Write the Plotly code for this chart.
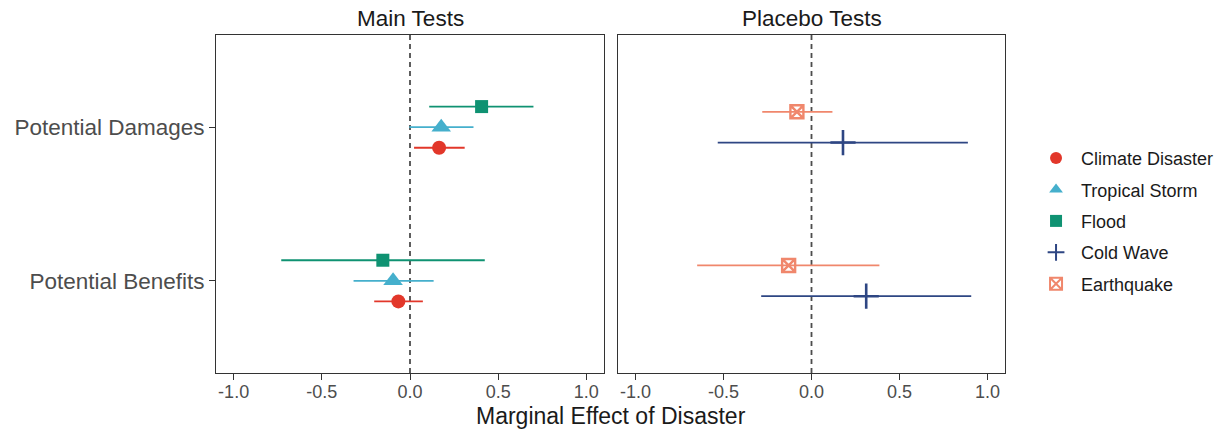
import plotly.graph_objects as go

outcomes = ["Potential Damages", "Potential Benefits"]

series = ["Climate Disaster", "Tropical Storm", "Flood", "Cold Wave", "Earthquake"]
panel = ["Main Tests", "Main Tests", "Main Tests", "Placebo Tests", "Placebo Tests"]

# estimates per series: [Potential Damages, Potential Benefits]
est = {
    "Climate Disaster": [0.165, -0.066],
    "Tropical Storm": [0.177, -0.096],
    "Flood": [0.406, -0.154],
    "Cold Wave": [0.179, 0.311],
    "Earthquake": [-0.083, -0.130],
}
lo = {
    "Climate Disaster": [0.023, -0.203],
    "Tropical Storm": [-0.004, -0.320],
    "Flood": [0.109, -0.730],
    "Cold Wave": [-0.533, -0.286],
    "Earthquake": [-0.280, -0.650],
}
hi = {
    "Climate Disaster": [0.310, 0.073],
    "Tropical Storm": [0.360, 0.134],
    "Flood": [0.700, 0.424],
    "Cold Wave": [0.889, 0.908],
    "Earthquake": [0.119, 0.386],
}

colors = {
    "Climate Disaster": "#E2372A",
    "Tropical Storm": "#45AFCC",
    "Flood": "#0F9272",
    "Cold Wave": "#2E4683",
    "Earthquake": "#F0876C",
}
symbols = {
    "Climate Disaster": ("circle", 14, 0),
    "Tropical Storm": ("triangle-up", 17, 0),
    "Flood": ("square", 13, 0),
    "Cold Wave": ("cross-thin", 18, 2.6),
    "Earthquake": ("square-x-open", 13, 2.4),
}

# y positions: Potential Damages on top (2), Benefits bottom (1)
base = {"Potential Damages": 2, "Potential Benefits": 1}
dodge_main = {"Climate Disaster": -0.134, "Tropical Storm": 0.0, "Flood": 0.134}
dodge_plac = {"Cold Wave": -0.1, "Earthquake": 0.1}

FONT = "Liberation Sans, Arial, Helvetica, sans-serif"

fig = go.Figure()
for s, p in zip(series, panel):
    off = dodge_main.get(s, dodge_plac.get(s, 0))
    ys = [base[o] + off for o in outcomes]
    xs = est[s]
    plus = [h - x for h, x in zip(hi[s], xs)]
    minus = [x - l for l, x in zip(lo[s], xs)]
    sym, sz, lw = symbols[s]
    axis = "x" if p == "Main Tests" else "x2"
    marker = dict(symbol=sym, size=sz, color=colors[s])
    if lw:
        marker["line"] = dict(width=lw, color=colors[s])
    fig.add_trace(go.Scatter(
        x=xs, y=ys, mode="markers", name=s, legendgroup=s,
        xaxis=axis, yaxis="y" if axis == "x" else "y2",
        marker=marker,
        error_x=dict(type="data", symmetric=False, array=plus, arrayminus=minus,
                     width=0, thickness=1.8, color=colors[s]),
    ))

W = 1005 - 216
d1 = 388 / W
d2 = 402 / W

xax = dict(range=[-1.1, 1.1], tickvals=[-1, -0.5, 0, 0.5, 1],
           ticktext=["-1.0", "-0.5", "0.0", "0.5", "1.0"],
           showgrid=False, zeroline=False, showline=True, mirror=True,
           linecolor="#333333", linewidth=1, ticks="outside", ticklen=6,
           ticklabelstandoff=-4, automargin=False,
           tickcolor="#333333", tickfont=dict(size=18, color="#4D4D4D", family=FONT))
yax = dict(range=[0.4, 2.6], tickvals=[1, 2], ticktext=["Potential Benefits", "Potential Damages"],
           showgrid=False, zeroline=False, showline=True, mirror=True,
           linecolor="#333333", linewidth=1, ticks="outside", ticklen=6, automargin=False,
           tickcolor="#333333", tickfont=dict(size=22.5, color="#4D4D4D", family=FONT))

fig.update_layout(
    width=1228, height=431,
    margin=dict(l=216, r=223, t=35, b=58, autoexpand=False),
    paper_bgcolor="white", plot_bgcolor="white",
    font=dict(family=FONT),
    xaxis=dict(domain=[0, d1], **xax),
    xaxis2=dict(domain=[d2, 1], anchor="y2", **xax),
    yaxis=dict(domain=[0, 1], anchor="x", **yax),
    yaxis2=dict(domain=[0, 1], anchor="x2", matches="y", **{**yax, "showticklabels": False, "ticks": ""}),
    legend=dict(x=1.033, y=0.45, xanchor="left", yanchor="middle",
                font=dict(size=18, color="#1A1A1A", family=FONT),
                bgcolor="rgba(0,0,0,0)", tracegroupgap=5, itemwidth=40,
                itemsizing="constant"),
    showlegend=True,
)

for xr in ["x", "x2"]:
    fig.add_shape(type="line", xref=xr, yref=("y domain" if xr == "x" else "y2 domain"),
                  x0=0, x1=0, y0=0, y1=1,
                  line=dict(color="#4D4D4D", width=1.8, dash="5px,4px"), layer="below")

fig.add_annotation(text="Main Tests", x=d1 / 2, y=1, xref="paper", yref="paper",
                   xanchor="center", yanchor="bottom", yshift=2, showarrow=False,
                   font=dict(size=22.5, color="#1A1A1A", family=FONT))
fig.add_annotation(text="Placebo Tests", x=(d2 + 1) / 2, y=1, xref="paper", yref="paper",
                   xanchor="center", yanchor="bottom", yshift=2, showarrow=False,
                   font=dict(size=22.5, color="#1A1A1A", family=FONT))
fig.add_annotation(text="Marginal Effect of Disaster", x=0.5, y=0, xref="paper", yref="paper",
                   xanchor="center", yanchor="top", yshift=-28, showarrow=False,
                   font=dict(size=23, color="#1A1A1A", family=FONT))

fig.write_html("out.html")
